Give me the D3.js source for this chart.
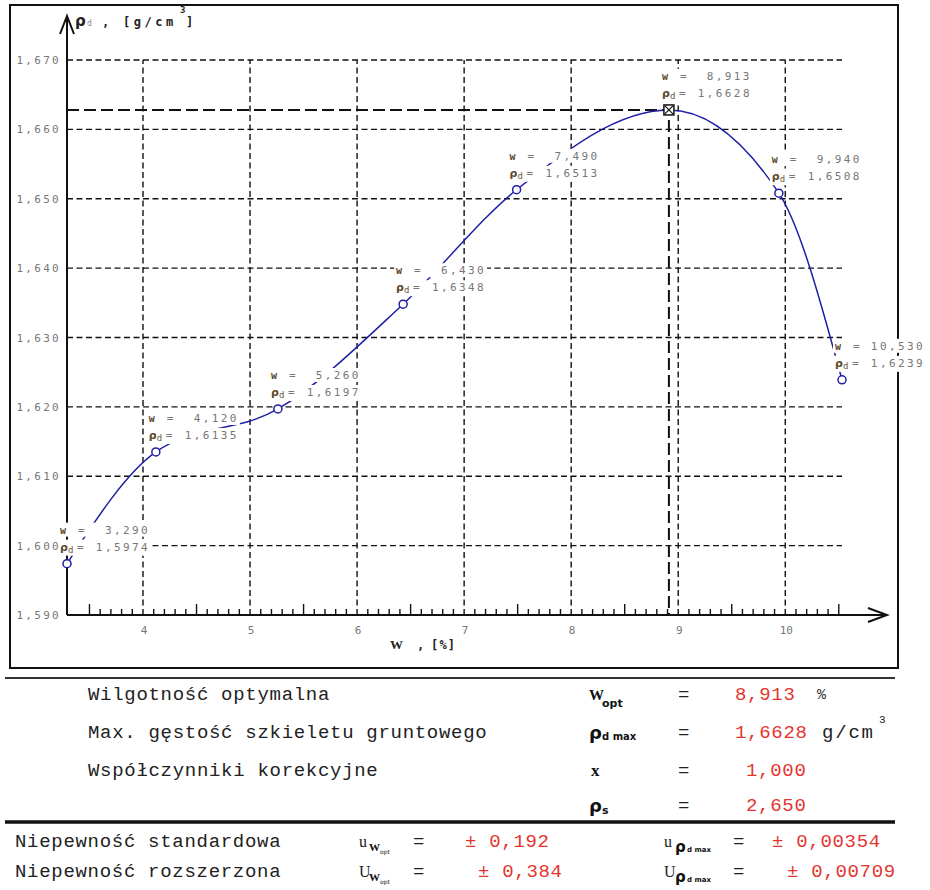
<!DOCTYPE html>
<html>
<head>
<meta charset="utf-8">
<script src="https://cdn.jsdelivr.net/npm/d3@7"></script>
<style>
  body { margin: 0; background: #fff; }
  text { white-space: pre; }
</style>
</head>
<body>
<svg id="chart" width="930" height="890"></svg>
<script>
// measured points: moisture w [%] and dry density rho_d [g/cm3]
const moisture = [3.290, 4.120, 5.260, 6.430, 7.490, 9.940, 10.530];
const density = [1.5974, 1.6135, 1.6197, 1.6348, 1.6513, 1.6508, 1.6239];
const optMoisture = 8.913;
const optDensity = 1.6628;

const xTicks = [4, 5, 6, 7, 8, 9, 10];
const yTicks = [1.590, 1.600, 1.610, 1.620, 1.630, 1.640, 1.650, 1.660, 1.670];

// results table
const summaryLabels = ["Wilgotność optymalna", "Max. gęstość szkieletu gruntowego", "Współczynniki korekcyjne", ""];
const summaryValues = ["8,913", "1,6628", "1,000", "2,650"];
const uncertLabels = ["Niepewność standardowa", "Niepewność rozszerzona"];
const uncertW = ["± 0,192", "± 0,384"];
const uncertRho = ["± 0,00354", "± 0,00709"];

function init() {
    const svg = d3.select("#chart");
    const blue = "#1f1fa6";
    const grey = "#777";
    const red = "#e3352f";
    const mono = "'DejaVu Sans Mono', monospace";
    const table = "'Liberation Mono', 'Courier New', monospace";
    const sans = "'DejaVu Sans', sans-serif";
    const comma = (v, p) => d3.format("." + p + "f")(v).replace(".", ",");

    const x = d3.scaleLinear().domain(d3.extent(moisture)).range([67, 842]);
    const y = d3.scaleLinear().domain(d3.extent(yTicks)).range([615, 60]);

    // outer frame
    svg.append("rect")
        .attr("x", 10).attr("y", 5).attr("width", 888).attr("height", 663)
        .attr("fill", "none").attr("stroke", "#111").attr("stroke-width", 2);

    // grid
    svg.append("g").selectAll("line")
        .data(yTicks.slice(1))
        .join("line")
        .attr("x1", x.range()[0]).attr("x2", x.range()[1])
        .attr("y1", d => y(d)).attr("y2", d => y(d))
        .attr("stroke", "#111").attr("stroke-width", 1.4)
        .attr("stroke-dasharray", "6,3.5");

    svg.append("g").selectAll("line")
        .data(xTicks)
        .join("line")
        .attr("x1", d => x(d)).attr("x2", d => x(d))
        .attr("y1", y.range()[0]).attr("y2", y.range()[1])
        .attr("stroke", "#111").attr("stroke-width", 1.4)
        .attr("stroke-dasharray", "6,3.5");

    // optimum guide lines
    svg.append("path")
        .attr("d", `M${x.range()[0]},${y(optDensity)}H${x(optMoisture)}V${y.range()[0]}`)
        .attr("fill", "none").attr("stroke", "#111").attr("stroke-width", 2)
        .attr("stroke-dasharray", "12,5");

    // axes with arrows
    const x0 = x.range()[0], y0 = y.range()[0];
    svg.append("path")
        .attr("d", `M${x0},${y0}V16M${x0 - 7},34L${x0},16L${x0 + 7},34`)
        .attr("fill", "none").attr("stroke", "#111").attr("stroke-width", 2);
    svg.append("path")
        .attr("d", `M${x0},${y0}H887M868,${y0 - 7}L887,${y0}L868,${y0 + 7}`)
        .attr("fill", "none").attr("stroke", "#111").attr("stroke-width", 2);

    // minor ticks every 0.1, taller on halves
    const minor = d3.range(35, 106).map(i => i / 10).filter(d => Math.round(d * 10) % 10 !== 0);
    svg.append("g").selectAll("line")
        .data(minor)
        .join("line")
        .attr("x1", d => x(d)).attr("x2", d => x(d))
        .attr("y1", y0).attr("y2", d => Math.round(d * 10) % 5 === 0 ? y0 - 11 : y0 - 6)
        .attr("stroke", "#111").attr("stroke-width", 1.4);

    // x tick labels
    svg.append("g").selectAll("text")
        .data(xTicks)
        .join("text")
        .attr("x", d => x(d) + 1).attr("y", y0 + 19)
        .attr("text-anchor", "middle")
        .attr("font-family", mono).attr("font-size", 11).attr("fill", grey)
        .text(d => d);

    // axis titles
    const yt = svg.append("g").attr("font-family", mono).attr("font-weight", "bold").attr("fill", "#222");
    yt.append("text").attr("x", 75).attr("y", 26).attr("font-size", 15).attr("font-family", sans).text("ρ");
    yt.append("text").attr("x", 87).attr("y", 26).attr("font-size", 8).attr("font-weight", "normal").attr("fill", "#888").text("d");
    yt.append("text").attr("x", 102).attr("y", 26).attr("font-size", 12).text(",");
    yt.append("text").attr("x", 123).attr("y", 26).attr("font-size", 12).attr("letter-spacing", 3.5).text("[g/cm");
    yt.append("text").attr("x", 180).attr("y", 13).attr("font-size", 9).text("3");
    yt.append("text").attr("x", 186).attr("y", 26).attr("font-size", 12).text("]");

    const xt = svg.append("g").attr("font-family", mono).attr("font-weight", "bold").attr("fill", "#222");
    xt.append("text").attr("x", 390).attr("y", 649).attr("font-size", 13).attr("font-family", "'Liberation Serif', serif").text("W");
    xt.append("text").attr("x", 417).attr("y", 649).attr("font-size", 12).text(",");
    xt.append("text").attr("x", 431).attr("y", 649).attr("font-size", 12).attr("letter-spacing", 1.2).text("[%]");

    // fitted compaction curve through measured points and the optimum
    const curvePts = moisture.map((w, i) => [w, density[i]])
        .concat([[optMoisture, optDensity]])
        .sort((a, b) => a[0] - b[0]);
    const line = d3.line()
        .x(d => x(d[0]))
        .y(d => y(d[1]))
        .curve(d3.curveMonotoneX);
    svg.append("path")
        .datum(curvePts)
        .attr("d", line)
        .attr("fill", "none").attr("stroke", blue).attr("stroke-width", 1.5);

    // point labels (white boxes mask the curve and grid)
    const labelData = moisture.map((w, i) => ({ w: w, r: density[i] }))
        .concat([{ w: optMoisture, r: optDensity }]);
    const lab = svg.append("g").selectAll("g")
        .data(labelData)
        .join("g")
        .attr("transform", d => `translate(${x(d.w) - 7},${y(d.r) - 30})`);
    lab.append("rect").attr("x", -2).attr("y", -11).attr("width", 93).attr("height", 14).attr("fill", "#fff");
    lab.append("rect").attr("x", -2).attr("y", 6).attr("width", 93).attr("height", 16).attr("fill", "#fff");
    lab.append("text").attr("x", 0).attr("y", 0)
        .attr("font-family", mono).attr("font-size", 10).attr("font-weight", "bold").attr("fill", "#5b4a2c")
        .text("w");
    lab.append("text").attr("x", 0).attr("y", 17)
        .attr("font-family", sans).attr("font-size", 11).attr("font-weight", "bold").attr("fill", "#5b4a2c")
        .text("ρ");
    lab.append("text").attr("x", 8).attr("y", 19)
        .attr("font-family", mono).attr("font-size", 9).attr("fill", "#6b5a3c")
        .text("d");
    lab.append("text").attr("x", 18).attr("y", 0)
        .attr("font-family", mono).attr("font-size", 11).attr("fill", grey).text("=");
    lab.append("text").attr("x", 17).attr("y", 17)
        .attr("font-family", mono).attr("font-size", 11).attr("fill", grey).text("=");
    lab.append("text").attr("x", 90).attr("y", 0)
        .attr("text-anchor", "end").attr("letter-spacing", 2.4)
        .attr("font-family", mono).attr("font-size", 11).attr("fill", grey)
        .text(d => comma(d.w, 3));
    lab.append("text").attr("x", 90).attr("y", 17)
        .attr("text-anchor", "end").attr("letter-spacing", 2.4)
        .attr("font-family", mono).attr("font-size", 11).attr("fill", grey)
        .text(d => comma(d.r, 4));

    // y tick labels, drawn above the label boxes
    svg.append("g").selectAll("text")
        .data(yTicks)
        .join("text")
        .attr("x", 61).attr("y", d => y(d) + 4)
        .attr("text-anchor", "end").attr("letter-spacing", 2.3)
        .attr("font-family", mono).attr("font-size", 11).attr("fill", grey)
        .text(d => comma(d, 3));

    // measured points
    svg.append("g").selectAll("circle")
        .data(moisture)
        .join("circle")
        .attr("cx", d => x(d)).attr("cy", (d, i) => y(density[i]))
        .attr("r", 4)
        .attr("fill", "#fff").attr("stroke", blue).attr("stroke-width", 1.5);

    // optimum marker
    const ox = x(optMoisture), oy = y(optDensity);
    svg.append("rect")
        .attr("x", ox - 5).attr("y", oy - 5).attr("width", 10).attr("height", 10)
        .attr("fill", "#fff").attr("stroke", "#111").attr("stroke-width", 1.5);
    svg.append("path")
        .attr("d", `M${ox - 4},${oy - 4}L${ox + 4},${oy + 4}M${ox + 4},${oy - 4}L${ox - 4},${oy + 4}`)
        .attr("stroke", "#111").attr("stroke-width", 1.2);

    // results table
    svg.append("line").attr("x1", 5).attr("x2", 895).attr("y1", 678).attr("y2", 678)
        .attr("stroke", "#333").attr("stroke-width", 2);
    svg.append("line").attr("x1", 5).attr("x2", 895).attr("y1", 822).attr("y2", 822)
        .attr("stroke", "#111").attr("stroke-width", 3.5);

    const rowY = [700, 738, 776, 811];
    svg.append("g").selectAll("text")
        .data(summaryLabels)
        .join("text")
        .attr("x", 88).attr("y", (d, i) => rowY[i])
        .attr("font-family", table).attr("font-size", 19).attr("letter-spacing", 0.7).attr("fill", "#222")
        .text(d => d);
    svg.append("g").selectAll("text")
        .data(summaryValues)
        .join("text")
        .attr("x", (d, i) => i < 2 ? 735 : 746).attr("y", (d, i) => rowY[i])
        .attr("font-family", table).attr("font-size", 19).attr("letter-spacing", 0.7).attr("fill", red)
        .text(d => d);
    svg.append("g").selectAll("text")
        .data(rowY)
        .join("text")
        .attr("x", 678).attr("y", d => d)
        .attr("font-family", table).attr("font-size", 19).attr("fill", "#222")
        .text("=");

    const bold = (tx, ty, s, size, fam) => svg.append("text")
        .attr("x", tx).attr("y", ty).attr("font-size", size).attr("font-weight", "bold")
        .attr("font-family", fam || "'Liberation Serif', serif").attr("fill", "#111").text(s);

    bold(589, 700, "W", 15);
    bold(602, 707, "opt", 11, sans);
    bold(589, 739, "ρ", 18, sans);
    bold(602, 740, "d max", 10, sans);
    bold(591, 776, "x", 17);
    bold(589, 812, "ρ", 18, sans);
    bold(602, 814, "s", 11, sans);

    svg.append("text").attr("x", 817).attr("y", 699)
        .attr("font-family", table).attr("font-size", 15).attr("fill", "#333").text("%");
    svg.append("text").attr("x", 822).attr("y", 738)
        .attr("font-family", table).attr("font-size", 19).attr("letter-spacing", 1.8).attr("fill", "#222").text("g/cm");
    svg.append("text").attr("x", 879).attr("y", 723)
        .attr("font-family", table).attr("font-size", 11).attr("fill", "#222").text("3");

    const uY = [847, 877];
    svg.append("g").selectAll("text")
        .data(uncertLabels)
        .join("text")
        .attr("x", 15).attr("y", (d, i) => uY[i])
        .attr("font-family", table).attr("font-size", 19).attr("letter-spacing", 0.7).attr("fill", "#222")
        .text(d => d);
    uY.forEach((yy, i) => {
        const u = i === 0 ? "u" : "U";
        svg.append("text").attr("x", 359).attr("y", yy)
            .attr("font-family", "'Liberation Serif', serif").attr("font-size", 16).attr("fill", "#222").text(u);
        bold(369, yy + 4, "W", 11);
        svg.append("text").attr("x", 380).attr("y", yy + 7)
            .attr("font-family", sans).attr("font-size", 6).attr("fill", "#222").text("opt");
        svg.append("text").attr("x", 413).attr("y", yy)
            .attr("font-family", table).attr("font-size", 19).attr("fill", "#222").text("=");
        svg.append("text").attr("x", i === 0 ? 465 : 478).attr("y", yy)
            .attr("font-family", table).attr("font-size", 19).attr("letter-spacing", 0.7).attr("fill", red).text(uncertW[i]);

        svg.append("text").attr("x", 664).attr("y", yy)
            .attr("font-family", "'Liberation Serif', serif").attr("font-size", 16).attr("fill", "#222").text(u);
        bold(675, yy + 5, "ρ", 15, sans);
        bold(687, yy + 5, "d max", 7, sans);
        svg.append("text").attr("x", 733).attr("y", yy)
            .attr("font-family", table).attr("font-size", 19).attr("fill", "#222").text("=");
        svg.append("text").attr("x", i === 0 ? 772 : 787).attr("y", yy)
            .attr("font-family", table).attr("font-size", 19).attr("letter-spacing", 0.7).attr("fill", red).text(uncertRho[i]);
    });
}

window.onload = init;
</script>
</body>
</html>
